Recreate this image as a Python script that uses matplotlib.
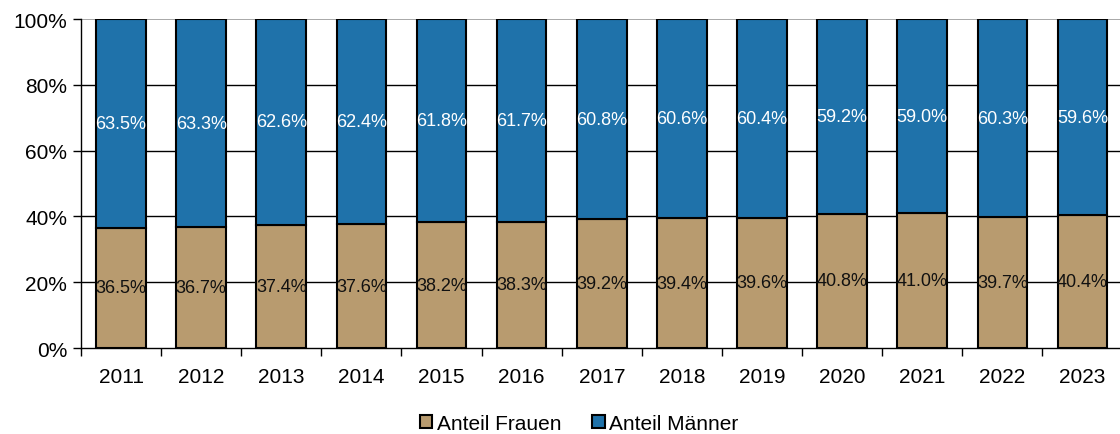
import matplotlib
matplotlib.use("Agg")
import matplotlib.pyplot as plt
import numpy as np

years = ["2011", "2012", "2013", "2014", "2015", "2016", "2017", "2018", "2019", "2020", "2021", "2022", "2023"]
frauen = [36.5, 36.7, 37.4, 37.6, 38.2, 38.3, 39.2, 39.4, 39.6, 40.8, 41.0, 39.7, 40.4]
maenner = [63.5, 63.3, 62.6, 62.4, 61.8, 61.7, 60.8, 60.6, 60.4, 59.2, 59.0, 60.3, 59.6]

plt.rcParams['font.family'] = ['Liberation Sans', 'DejaVu Sans']

c_f = "#B89B6F"
c_m = "#1F72AA"

fig = plt.figure(figsize=(11.2, 4.35), dpi=100)
ax = fig.add_axes([0.0723, 0.1977, 0.93, 0.7563])

x = np.arange(len(years))
w = 0.62
bf = ax.bar(x, frauen, w, color=c_f, edgecolor="black", linewidth=1.5, label="Anteil Frauen", zorder=3)
bm = ax.bar(x, maenner, w, bottom=frauen, color=c_m, edgecolor="black", linewidth=1.5, label="Anteil Männer", zorder=3)

for i in range(len(years)):
    ax.text(x[i], frauen[i] / 2, f"{frauen[i]:.1f}%", ha="center", va="center", fontsize=13, color="#111111", zorder=4)
    ax.text(x[i], frauen[i] + maenner[i] / 2, f"{maenner[i]:.1f}%", ha="center", va="center", fontsize=13, color="white", zorder=4)

ax.set_xlim(-0.5, len(years) - 0.5)
ax.set_ylim(0, 100)
ax.set_yticks([0, 20, 40, 60, 80, 100])
ax.set_yticklabels([f"{v}%" for v in [0, 20, 40, 60, 80, 100]], fontsize=15)
for v in [20, 40, 60, 80]:
    ax.axhline(v, color="black", linewidth=1, zorder=1)
ax.axhline(100, color="#999999", linewidth=1.2, zorder=1)

ax.set_xticks(x)
ax.set_xticklabels(years, fontsize=15)
ax.tick_params(axis="x", length=0, pad=14)
ax.set_xticks(np.arange(-0.5, len(years)), minor=True)
ax.tick_params(axis="x", which="minor", length=6, width=1, color="black", direction="out")
ax.tick_params(axis="y", length=6, width=1, direction="out", pad=4)

for s in ["top", "right"]:
    ax.spines[s].set_visible(False)
ax.spines["left"].set_color("black")
ax.spines["bottom"].set_color("black")
ax.spines["left"].set_linewidth(1)
ax.spines["bottom"].set_linewidth(1)

leg = fig.legend(handles=[bf, bm], loc="center", bbox_to_anchor=(0.517, 0.024), ncol=2, frameon=False,
                 fontsize=15, handlelength=0.6, handleheight=0.6, handletextpad=0.2, columnspacing=1.5)

fig.savefig("out.png", dpi=100)
